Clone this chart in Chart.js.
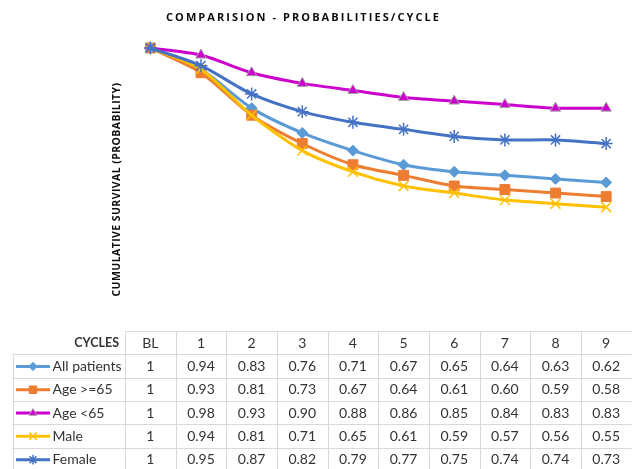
<!DOCTYPE html>
<html><head><meta charset="utf-8">
<script src="https://cdn.jsdelivr.net/npm/chart.js@4.4.1/dist/chart.umd.min.js"></script>
<style>html,body{margin:0;padding:0;background:#fff;overflow:hidden;width:632px;height:469px}canvas{display:block}</style>
</head><body>
<canvas id="c" width="640" height="469"></canvas>
<script>
const categories = ['BL','1','2','3','4','5','6','7','8','9'];
const seriesNames = ['All patients','Age >=65','Age <65','Male','Female'];
const allPatients = [1,0.94,0.83,0.76,0.71,0.67,0.65,0.64,0.63,0.62];
const ageOver65   = [1,0.93,0.81,0.73,0.67,0.64,0.61,0.60,0.59,0.58];
const ageUnder65  = [1,0.98,0.93,0.90,0.88,0.86,0.85,0.84,0.83,0.83];
const male        = [1,0.94,0.81,0.71,0.65,0.61,0.59,0.57,0.56,0.55];
const female      = [1,0.95,0.87,0.82,0.79,0.77,0.75,0.74,0.74,0.73];
const tableHeader = 'CYCLES';
const chartTitle = 'COMPARISION - PROBABILITIES/CYCLE';
const yAxisTitle = 'CUMULATIVE SURVIVAL (PROBABILITY)';

const seriesData = [allPatients, ageOver65, ageUnder65, male, female];
const styles = [
  {color:'#5B9BD5', ps:'rectRot',  r:5.5, pb:'#5B9BD5', pbw:1},
  {color:'#ED7D31', ps:'rect',     r:7, pb:'#ED7D31', pbw:1},
  {color:'#CC00CC', ps:'triangle', r:6, pb:'#A5A5A5', pbw:1},
  {color:'#FFC000', ps:'crossRot', r:7, pb:'#FFC000', pbw:1.5},
  {color:'#4472C4', ps:'star',     r:6.5, pb:'#4472C4', pbw:1.5}
];

function fmt(v){ return v === 1 ? '1' : v.toFixed(2); }

function drawMarker(c, st, x, y, scale){
  c.save();
  c.fillStyle = st.color; c.strokeStyle = st.pb; c.lineWidth = st.pbw;
  if (Chart.helpers && Chart.helpers.drawPoint) {
    Chart.helpers.drawPoint(c, {pointStyle: st.ps, rotation: 0, radius: st.r*scale, borderWidth: st.pbw}, x, y);
  }
  c.restore();
}

const tablePlugin = {
  id: 'dataTable',
  afterDraw(chart){
    const c = chart.ctx;
    const xs = chart.scales.x;
    const step = xs.getPixelForValue(1) - xs.getPixelForValue(0);
    const left0 = xs.getPixelForValue(0) - step/2;
    const top = chart.chartArea.bottom;
    const rowH = 23.3;
    const labelLeft = 12.5;
    const right = left0 + step*categories.length;
    const px = v => Math.round(v) + 0.5;

    // title
    c.save();
    c.fillStyle = '#0d0d0d';
    c.font = 'bold 11px "Open Sans"';
    c.letterSpacing = '0px';
    let w0 = c.measureText(chartTitle).width;
    c.letterSpacing = ((275 - w0)/chartTitle.length).toFixed(2) + 'px';
    c.textAlign = 'left'; c.textBaseline = 'middle';
    c.fillText(chartTitle, 166, 18);
    // y axis title
    c.font = 'bold 10.5px "Open Sans"';
    c.letterSpacing = '0px';
    w0 = c.measureText(yAxisTitle).width;
    const sp = (214 - w0)/yAxisTitle.length;
    c.letterSpacing = sp.toFixed(2) + 'px';
    c.translate(117, 189.5);
    c.rotate(-Math.PI/2);
    c.textAlign = 'left';
    c.fillText(yAxisTitle, -107, 0);
    c.restore();

    // grid
    c.save();
    c.strokeStyle = '#D9D9D9'; c.lineWidth = 1;
    c.beginPath();
    c.moveTo(left0, px(top)); c.lineTo(right, px(top));
    for (let r = 1; r <= seriesNames.length + 1; r++) {
      const y = px(top + r*rowH);
      c.moveTo(labelLeft, y); c.lineTo(right, y);
    }
    c.moveTo(px(labelLeft), top + rowH); c.lineTo(px(labelLeft), chart.height);
    for (let k = 0; k <= categories.length; k++) {
      const x = px(left0 + k*step);
      c.moveTo(x, top); c.lineTo(x, chart.height);
    }
    c.stroke();
    c.restore();

    // header
    c.save();
    c.fillStyle = '#333333';
    c.textBaseline = 'middle';
    c.font = 'bold 12.5px Lato';
    c.textAlign = 'right';
    c.fillText(tableHeader, left0 - 6, top + rowH/2 + 0.5);
    c.font = '14px Lato';
    c.textAlign = 'center';
    categories.forEach((lab, i) => c.fillText(lab, xs.getPixelForValue(i), top + rowH/2 + 0.5));
    // rows
    seriesNames.forEach((name, r) => {
      const cy = top + (r+1)*rowH + rowH/2 + 0.5;
      const st = styles[r];
      c.save();
      c.strokeStyle = st.color; c.lineWidth = 3;
      c.beginPath(); c.moveTo(16, cy); c.lineTo(50, cy); c.stroke();
      c.restore();
      drawMarker(c, st, 33, cy, 0.75);
      c.fillStyle = '#333333';
      c.textAlign = 'left';
      c.fillText(name, 52.5, cy);
      c.textAlign = 'center';
      seriesData[r].forEach((v, i) => c.fillText(fmt(v), xs.getPixelForValue(i), cy));
    });
    c.restore();
  }
};

new Chart(document.getElementById('c').getContext('2d'), {
  type: 'line',
  data: {
    labels: categories,
    datasets: seriesData.map((d, i) => ({
      label: seriesNames[i],
      data: d,
      borderColor: styles[i].color,
      backgroundColor: styles[i].color,
      borderWidth: 3,
      pointStyle: styles[i].ps,
      pointRadius: styles[i].r,
      pointBackgroundColor: styles[i].color,
      pointBorderColor: styles[i].pb,
      pointBorderWidth: styles[i].pbw,
      tension: 0.25,
      clip: false,
      order: 5 - i
    }))
  },
  options: {
    responsive: false,
    animation: false,
    events: [],
    layout: { padding: { left: 125, right: 3, top: 48, bottom: 138 } },
    scales: {
      x: { display: false, offset: true },
      y: { display: false, min: 0.2, max: 1 }
    },
    plugins: { legend: { display: false }, title: { display: false }, tooltip: { enabled: false } }
  },
  plugins: [tablePlugin]
});
</script>
</body></html>
